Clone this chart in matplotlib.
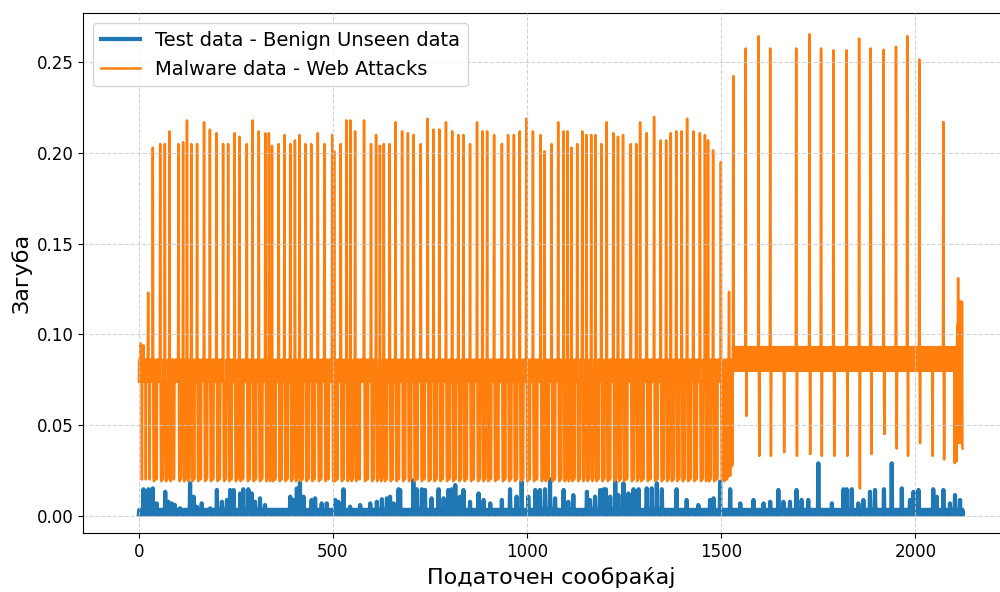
import numpy as np
import matplotlib
matplotlib.use("Agg")
import matplotlib.pyplot as plt

plt.rcParams['path.simplify'] = False

# ---- data ----
n_points = 2123

# orange: dense "band" the loss oscillates in, per segment
band_seg1 = [0.074, 0.086]
band_seg2 = [0.080, 0.093]
seg1_end = 1529
seg2_end = 2105

# first few points
start_idx = [4, 8, 12, 18, 24, 28]
start_val = [0.095, 0.020, 0.094, 0.020, 0.123, 0.020]

# spikes of the first part (index, loss)
spike1_idx = [36, 55, 67, 79, 102, 114, 124, 135, 150, 168, 183, 200, 217, 230, 247, 259,
              278, 293, 309, 326, 335, 343, 360, 375, 390, 402, 414, 429, 444, 461, 478, 498,
              503, 520, 535, 545, 557, 580, 598, 611, 621, 631, 646, 661, 678, 693, 708, 726,
              744, 759, 774, 791, 807, 823, 836, 853, 871, 885, 897, 915, 935, 951, 966, 981,
              998, 1015, 1035, 1045, 1063, 1080, 1094, 1104, 1114, 1129, 1142, 1153, 1165, 1176,
              1191, 1205, 1222, 1234, 1247, 1267, 1281, 1291, 1308, 1327, 1344, 1358, 1370, 1384,
              1398, 1412, 1428, 1445, 1458, 1466, 1479, 1499]
spike1_val = [0.203, 0.205, 0.205, 0.212, 0.205, 0.206, 0.218, 0.205, 0.205, 0.217, 0.213, 0.211,
              0.205, 0.205, 0.211, 0.209, 0.205, 0.218, 0.212, 0.211, 0.211, 0.204, 0.205, 0.210,
              0.205, 0.207, 0.210, 0.205, 0.205, 0.211, 0.205, 0.210, 0.201, 0.205, 0.218, 0.218,
              0.212, 0.218, 0.205, 0.210, 0.204, 0.205, 0.205, 0.217, 0.212, 0.211, 0.210, 0.205,
              0.219, 0.213, 0.213, 0.217, 0.212, 0.210, 0.210, 0.205, 0.217, 0.212, 0.212, 0.210,
              0.205, 0.210, 0.210, 0.212, 0.219, 0.212, 0.210, 0.201, 0.205, 0.217, 0.212, 0.212,
              0.203, 0.205, 0.212, 0.210, 0.210, 0.210, 0.205, 0.217, 0.211, 0.209, 0.210, 0.205,
              0.205, 0.217, 0.211, 0.220, 0.207, 0.207, 0.211, 0.212, 0.212, 0.219, 0.212, 0.211,
              0.210, 0.207, 0.2015, 0.195]
# each spike is followed by a short drop
dip1_val = [0.021, 0.019, 0.020]
# further drops between the spikes
middip1_idx = [45, 61, 73, 90, 108, 119, 129, 142, 159, 175, 191, 208, 223, 238, 253, 268,
               285, 301, 317, 330, 339, 351, 367, 382, 396, 408, 421, 436, 452, 469, 488, 511,
               527, 540, 551, 568, 589, 604, 616, 626, 638, 653, 669, 685, 700, 717, 735, 751,
               766, 782, 799, 815, 829, 844, 862, 878, 891, 906, 925, 943, 958, 973, 989, 1006,
               1025, 1040, 1054, 1071, 1087, 1099, 1109, 1121, 1135, 1147, 1159, 1170, 1183, 1198,
               1213, 1228, 1240, 1257, 1274, 1286, 1299, 1317, 1335, 1351, 1364, 1377, 1391, 1405,
               1420, 1436, 1451, 1462, 1472, 1489]
middip1_val = [0.020, 0.021]

# transition around 1500-1530
trans_idx = [1502, 1505, 1508, 1511, 1514, 1517, 1520, 1523, 1526, 1529]
trans_val = [0.020, 0.020, 0.019, 0.020, 0.020, 0.021, 0.1235, 0.022, 0.027, 0.028]

# spikes and dips of the second part
spike2_idx = [1531, 1563, 1596, 1626, 1693, 1727, 1757, 1789, 1823, 1855, 1885, 1918,
              1950, 1979, 2010, 2072]
spike2_val = [0.2425, 0.2577, 0.2645, 0.2577, 0.2577, 0.2656, 0.2577, 0.2567, 0.2567, 0.2632,
              0.2577, 0.2570, 0.2586, 0.2645, 0.2516, 0.2172]
dip2_idx = [1565, 1598, 1628, 1662, 1695, 1729, 1759, 1791, 1825, 1857, 1887, 1920, 1952,
            1981, 2012, 2044, 2074, 2101]
dip2_val = [0.055, 0.033, 0.033, 0.035, 0.033, 0.034, 0.033, 0.033, 0.033, 0.015, 0.034, 0.045,
            0.037, 0.033, 0.040, 0.033, 0.031, 0.029]

# last points
end_val = [0.088, 0.030, 0.090, 0.105, 0.090, 0.131, 0.085, 0.105, 0.040, 0.118, 0.090, 0.118,
           0.050, 0.118, 0.040, 0.118, 0.038, 0.037]

# blue: benign test data
blue_base = [0.0008, 0.0032]
blue_idx = [12, 25, 36, 46, 68, 76, 85, 93, 106, 132, 141, 149, 162, 184, 201, 214, 227, 235,
            244, 261, 269, 282, 291, 299, 312, 325, 390, 398, 407, 415, 424, 445, 454, 471, 484,
            506, 514, 527, 544, 570, 596, 613, 626, 639, 647, 656, 669, 673, 707, 716, 729, 737,
            754, 772, 785, 797, 806, 815, 827, 836, 853, 875, 888, 905, 935, 956, 973, 986, 1003,
            1021, 1033, 1046, 1059, 1072, 1094, 1106, 1119, 1154, 1162, 1175, 1188, 1197, 1203,
            1214, 1227, 1235, 1248, 1261, 1274, 1287, 1308, 1321, 1334, 1347, 1385, 1411, 1441,
            1471, 1480, 1497, 1523, 1549, 1583, 1609, 1626, 1647, 1660, 1677, 1694, 1707, 1724,
            1750, 1785, 1815, 1823, 1836, 1853, 1866, 1883, 1896, 1919, 1939, 1965, 1986, 1995,
            2008, 2046, 2055, 2072, 2089, 2102, 2115]
blue_val = [0.0146, 0.0146, 0.0151, 0.0068, 0.0132, 0.0077, 0.0068, 0.0059, 0.0041, 0.0179,
            0.0105, 0.0050, 0.0068, 0.0041, 0.0142, 0.0077, 0.0087, 0.0142, 0.0142, 0.0123,
            0.0146, 0.0146, 0.0123, 0.0077, 0.0096, 0.0059, 0.0105, 0.0087, 0.0151, 0.0185,
            0.0105, 0.0087, 0.0096, 0.0068, 0.0068, 0.0087, 0.0077, 0.0146, 0.0050, 0.0059,
            0.0068, 0.0077, 0.0091, 0.0096, 0.0105, 0.0068, 0.0146, 0.0142, 0.0195, 0.0146,
            0.0146, 0.0142, 0.0096, 0.0146, 0.0096, 0.0142, 0.0146, 0.0169, 0.0105, 0.0142,
            0.0077, 0.0123, 0.0087, 0.0068, 0.0087, 0.0146, 0.0105, 0.0188, 0.0105, 0.0142,
            0.0142, 0.0146, 0.0201, 0.0096, 0.0142, 0.0077, 0.0114, 0.0132, 0.0087, 0.0105,
            0.0142, 0.0146, 0.0146, 0.0105, 0.0188, 0.0114, 0.0179, 0.0123, 0.0146, 0.0146,
            0.0151, 0.0151, 0.0179, 0.0146, 0.0146, 0.0087, 0.0059, 0.0087, 0.0096, 0.0188,
            0.0146, 0.0068, 0.0087, 0.0068, 0.0077, 0.0142, 0.0077, 0.0077, 0.0142, 0.0087,
            0.0087, 0.0289, 0.0068, 0.0146, 0.0146, 0.0146, 0.0068, 0.0087, 0.0132, 0.0142,
            0.0146, 0.0289, 0.0151, 0.0087, 0.0132, 0.0142, 0.0146, 0.0105, 0.0142, 0.0068,
            0.0114, 0.0087]

# ---- build the series ----
malware = np.empty(n_points)
malware[:seg1_end] = np.resize(band_seg1, seg1_end)
malware[seg1_end:seg2_end] = np.resize(band_seg2, seg2_end - seg1_end)
malware[seg2_end:] = end_val
malware[start_idx] = start_val
malware[spike1_idx] = spike1_val
for k, v in enumerate(dip1_val):
    malware[np.array(spike1_idx) + 2 + k] = v
for k, v in enumerate(middip1_val):
    malware[np.array(middip1_idx) + k] = v
malware[trans_idx] = trans_val
malware[spike2_idx] = spike2_val
malware[dip2_idx] = dip2_val

benign = np.resize(blue_base, n_points)
benign[blue_idx] = blue_val

x = np.arange(n_points)

# ---- plot ----
fig = plt.figure(figsize=(10, 5.92), dpi=100)
ax = fig.add_axes([0.0833, 0.0992, 0.935, 0.878])

ax.plot(x, benign, color='#1f77b4', linewidth=3, label='Test data - Benign Unseen data')
ax.plot(x, malware, color='#ff7f0e', linewidth=1.8, label='Malware data - Web Attacks')

ax.set_xlim(-143, 2265)
ax.set_ylim(-0.0097, 0.277)
ax.set_xticks([0, 500, 1000, 1500, 2000])
ax.set_yticks([0.00, 0.05, 0.10, 0.15, 0.20, 0.25])
ax.yaxis.set_major_formatter(matplotlib.ticker.FormatStrFormatter('%.2f'))
ax.tick_params(labelsize=12)

ax.set_xlabel('Податочен сообраќај', fontsize=16)
ax.set_ylabel('Загуба', fontsize=16)
ax.grid(True, linestyle='--', color='#c8c8c8', linewidth=0.8, alpha=0.8)
ax.set_axisbelow(False)
ax.legend(loc='upper left', fontsize=14)

fig.savefig('out.png', dpi=100)
